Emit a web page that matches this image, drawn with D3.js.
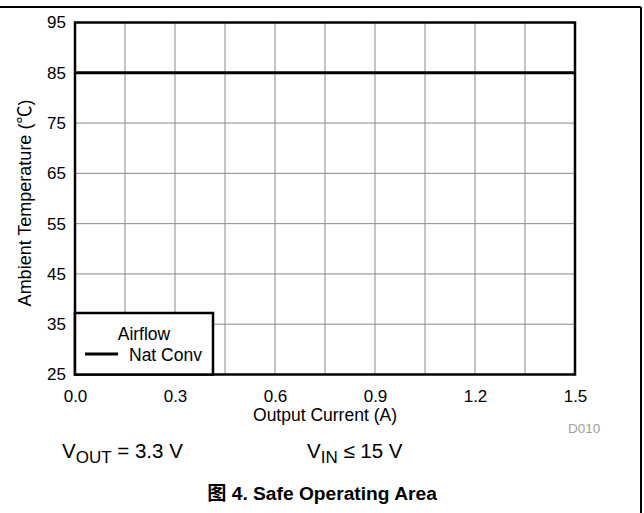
<!DOCTYPE html>
<html>
<head>
<meta charset="utf-8">
<script src="https://cdn.jsdelivr.net/npm/d3@7/dist/d3.min.js"></script>
<style>
  html, body { margin: 0; padding: 0; background: #fff; }
  text { font-family: "Liberation Sans", Arial, "Noto Sans CJK SC", sans-serif; }
</style>
</head>
<body>
<div id="chart"></div>
<script>
// ---- data ----
const xTicks = [0.0, 0.3, 0.6, 0.9, 1.2, 1.5];
const xGrid = [0, 0.15, 0.3, 0.45, 0.6, 0.75, 0.9, 1.05, 1.2, 1.35, 1.5];
const yTicks = [25, 35, 45, 55, 65, 75, 85, 95];
const seriesName = "Nat Conv";
const seriesX = [0.0, 1.5];
const seriesY = [85, 85];
const xDomain = [0, 1.5];
const yDomain = [25, 95];

const W = 644, H = 513;
const svg = d3.select("#chart").append("svg")
  .attr("width", W).attr("height", H);

const x = d3.scaleLinear().domain(xDomain).range([75, 575]);
const y = d3.scaleLinear().domain(yDomain).range([374.5, 22.5]);

// outer frame
svg.append("line").attr("x1", 0).attr("x2", 641).attr("y1", 7).attr("y2", 7)
  .attr("stroke", "#000").attr("stroke-width", 2);
svg.append("line").attr("x1", 641).attr("x2", 641).attr("y1", 7).attr("y2", H)
  .attr("stroke", "#000").attr("stroke-width", 2);

// grid
svg.append("g").selectAll("line").data(xGrid).join("line")
  .attr("x1", d => x(d)).attr("x2", d => x(d))
  .attr("y1", y(yDomain[0])).attr("y2", y(yDomain[1]))
  .attr("stroke", "#8a8a8a").attr("stroke-width", 1);
svg.append("g").selectAll("line").data(yTicks).join("line")
  .attr("x1", x(xDomain[0])).attr("x2", x(xDomain[1]))
  .attr("y1", d => y(d)).attr("y2", d => y(d))
  .attr("stroke", "#8a8a8a").attr("stroke-width", 1);

// series
const line = d3.line().x((d, i) => x(seriesX[i])).y(d => y(d));
svg.append("path").datum(seriesY).attr("d", line)
  .attr("fill", "none").attr("stroke", "#000").attr("stroke-width", 3);

// plot border
svg.append("rect")
  .attr("x", x(xDomain[0])).attr("y", y(yDomain[1]))
  .attr("width", x(xDomain[1]) - x(xDomain[0]))
  .attr("height", y(yDomain[0]) - y(yDomain[1]))
  .attr("fill", "none").attr("stroke", "#000").attr("stroke-width", 2.5);

// axes (labels only)
const fmt = d3.format(".1f");
const xAxis = svg.append("g").attr("transform", `translate(0,${y(yDomain[0])})`)
  .call(d3.axisBottom(x).tickValues(xTicks).tickFormat(fmt).tickSize(0).tickPadding(15));
const yAxis = svg.append("g").attr("transform", `translate(${x(xDomain[0])},0)`)
  .call(d3.axisLeft(y).tickValues(yTicks).tickSize(0).tickPadding(9));
[xAxis, yAxis].forEach(g => {
  g.select(".domain").remove();
  g.selectAll("text").attr("font-size", 17).attr("fill", "#000")
    .attr("font-family", '"Liberation Sans", Arial, sans-serif');
});

// axis titles
svg.append("text").attr("x", 325).attr("y", 421).attr("text-anchor", "middle")
  .attr("font-size", 17.5).text("Output Current (A)");
svg.append("text").attr("transform", `translate(31,203) rotate(-90)`)
  .attr("text-anchor", "middle").attr("font-size", 18)
  .text("Ambient Temperature (℃)");

// legend
const lg = svg.append("g");
lg.append("rect").attr("x", 75).attr("y", 313).attr("width", 138).attr("height", 61.5)
  .attr("fill", "#fff").attr("stroke", "#000").attr("stroke-width", 2.5);
lg.append("text").attr("x", 144).attr("y", 340).attr("text-anchor", "middle")
  .attr("font-size", 17.5).text("Airflow");
lg.append("line").attr("x1", 85).attr("x2", 118).attr("y1", 354).attr("y2", 354)
  .attr("stroke", "#000").attr("stroke-width", 3);
lg.append("text").attr("x", 129).attr("y", 361).attr("font-size", 17.5).text(seriesName);

// figure id
svg.append("text").attr("x", 568).attr("y", 433).attr("font-size", 13.5)
  .attr("fill", "#a0a0a0").text("D010");

// conditions
const c1 = svg.append("text").attr("x", 62).attr("y", 458).attr("font-size", 20.5);
c1.append("tspan").text("V");
c1.append("tspan").attr("font-size", 17).attr("dy", 5).text("OUT");
c1.append("tspan").attr("dy", -5).text(" = 3.3 V");
const c2 = svg.append("text").attr("x", 307).attr("y", 458).attr("font-size", 20.5);
c2.append("tspan").text("V");
c2.append("tspan").attr("font-size", 17).attr("dy", 5).text("IN");
c2.append("tspan").attr("dy", -5).text(" ≤ 15 V");

// caption
svg.append("text").attr("x", 322).attr("y", 500).attr("text-anchor", "middle")
  .attr("font-size", 19.2).attr("font-weight", "bold")
  .attr("font-family", '"Liberation Sans", Arial, "Noto Sans CJK SC", sans-serif')
  .text("图 4. Safe Operating Area");
</script>
</body>
</html>
